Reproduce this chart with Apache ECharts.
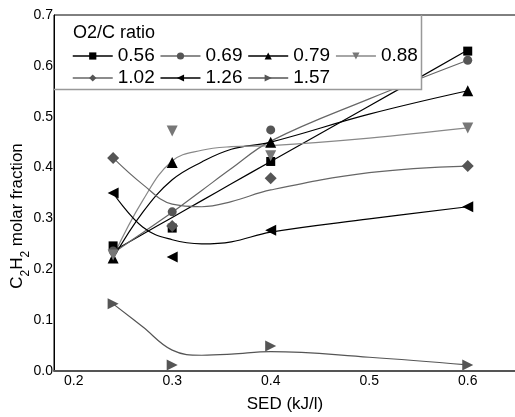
<!DOCTYPE html>
<html>
<head>
<meta charset="utf-8">
<script src="https://cdn.jsdelivr.net/npm/echarts@6/dist/echarts.min.js"></script>
<style>
  html, body { margin: 0; padding: 0; background: #fff; }
  #chart { width: 515px; height: 417px; }
</style>
</head>
<body>
<div id="chart"></div>
<script>
// Measured points: SED (kJ/l) and C2H2 molar fraction for each O2/C ratio
const sed = [0.24, 0.3, 0.4, 0.6];
const ratios = ['0.56', '0.69', '0.79', '0.88', '1.02', '1.26', '1.57'];
const r056 = [0.246, 0.281, 0.412, 0.629];
const r069 = [0.236, 0.313, 0.474, 0.611];
const r079 = [0.222, 0.410, 0.450, 0.551];
const r088 = [0.228, 0.472, 0.423, 0.478];
const r102 = [0.419, 0.285, 0.379, 0.403];
const r126 = [0.350, 0.224, 0.277, 0.323];
const r157 = [0.132, 0.012, 0.049, 0.012];

// Fitted trend curves for each ratio
const fitSed = [0.24, 0.27, 0.3, 0.33, 0.36, 0.4, 0.5, 0.6];
const fit056 = [0.236, 0.269, 0.302, 0.335, 0.368, 0.412, 0.521, 0.631];
const fit069 = [0.232, 0.272, 0.312, 0.355, 0.398, 0.452, 0.535, 0.611];
const fit079 = [0.222, 0.312, 0.376, 0.411, 0.436, 0.450, 0.505, 0.551];
const fit088 = [0.225, 0.335, 0.413, 0.434, 0.441, 0.443, 0.458, 0.478];
const fit102 = [0.419, 0.367, 0.328, 0.323, 0.333, 0.356, 0.390, 0.403];
const fit126 = [0.350, 0.283, 0.258, 0.250, 0.254, 0.273, 0.299, 0.323];
const fit157 = [0.132, 0.087, 0.041, 0.031, 0.033, 0.038, 0.027, 0.012];

const points = [r056, r069, r079, r088, r102, r126, r157];
const fits = [fit056, fit069, fit079, fit088, fit102, fit126, fit157];

const looks = [
  { symbol: 'rect',     size: 9,  rotate: 0,   mark: '#000', line: '#000' },
  { symbol: 'circle',   size: 9,  rotate: 0,   mark: '#555', line: '#666' },
  { symbol: 'triangle', size: 11, rotate: 0,   mark: '#000', line: '#000' },
  { symbol: 'triangle', size: 11, rotate: 180, mark: '#777', line: '#888' },
  { symbol: 'diamond',  size: 12, rotate: 0,   mark: '#555', line: '#666' },
  { symbol: 'triangle', size: 11, rotate: 90,  mark: '#000', line: '#000' },
  { symbol: 'triangle', size: 11, rotate: -90, mark: '#555', line: '#555' }
];

const FONT = "'Liberation Sans', Arial, sans-serif";

const series = [];
ratios.forEach((name, i) => {
  series.push({
    name: name + ' fit',
    type: 'line',
    smooth: 0.4,
    showSymbol: false,
    silent: true,
    z: 2,
    data: fitSed.map((x, k) => [x, fits[i][k]]),
    lineStyle: { color: looks[i].line, width: 1.2 },
    itemStyle: { color: looks[i].line }
  });
});
ratios.forEach((name, i) => {
  series.push({
    name: name,
    type: 'line',
    z: 3,
    symbol: looks[i].symbol,
    symbolSize: looks[i].size,
    symbolRotate: looks[i].rotate,
    data: sed.map((x, k) => [x, points[i][k]]),
    itemStyle: { color: looks[i].mark },
    lineStyle: { color: looks[i].line, opacity: 0 }
  });
});

const legendCommon = {
  orient: 'horizontal',
  left: 72,
  padding: 0,
  itemWidth: 40,
  itemHeight: 9,
  itemGap: 5,
  z: 10,
  selectedMode: false,
  lineStyle: { opacity: 1, width: 1.5 },
  textStyle: { fontFamily: FONT, fontSize: 19, color: '#000', lineHeight: 20 }
};

const chart = echarts.init(document.getElementById('chart'), null, { renderer: 'canvas' });
chart.setOption({
  animation: false,
  backgroundColor: '#fff',
  grid: {
    left: 54, right: -1, top: 15, bottom: 46,
    outerBoundsMode: 'none',
    containLabel: false,
    show: true, borderColor: '#000', borderWidth: 1, backgroundColor: 'transparent'
  },
  xAxis: {
    type: 'value',
    min: 0.18,
    max: 0.649,
    splitNumber: 5,
    name: 'SED (kJ/l)',
    nameLocation: 'middle',
    nameGap: 25,
    nameMoveOverlap: false,
    nameTextStyle: { fontFamily: FONT, fontSize: 17, color: '#000' },
    axisLine: { lineStyle: { color: '#555', width: 2 } },
    axisTick: { show: false },
    splitLine: { show: false },
    axisLabel: {
      showMinLabel: false, showMaxLabel: false,
      margin: 3,
      fontFamily: FONT, fontSize: 14, color: '#000',
      formatter: v => v.toFixed(1)
    }
  },
  yAxis: {
    type: 'value',
    min: 0,
    max: 0.7,
    interval: 0.1,
    name: '{m|C}{s|2}{m|H}{s|2}{m| molar fraction}',
    nameLocation: 'middle',
    nameGap: 28,
    nameMoveOverlap: false,
    nameTextStyle: {
      fontFamily: FONT, color: '#000',
      padding: [0, 46, 0, 0],
      rich: {
        m: { fontFamily: FONT, fontSize: 17, color: '#000' },
        s: { fontFamily: FONT, fontSize: 12, color: '#000', verticalAlign: 'bottom', padding: [0, 0, -6, 0] }
      }
    },
    axisLine: { show: true, lineStyle: { color: '#000', width: 1 } },
    axisTick: { show: false },
    splitLine: { show: false },
    axisLabel: {
      margin: 1,
      fontFamily: FONT, fontSize: 14, color: '#000',
      formatter: v => v.toFixed(1)
    }
  },
  legend: [
    Object.assign({}, legendCommon, { top: 46, data: ratios.slice(0, 4) }),
    Object.assign({}, legendCommon, { top: 68, data: ratios.slice(4) })
  ],
  graphic: [
    { type: 'rect', z: 5, silent: true,
      shape: { x: 55, y: 16, width: 366, height: 73 },
      style: { fill: '#fff' } },
    { type: 'polyline', z: 6, silent: true,
      shape: { points: [[54, 89.5], [421.5, 89.5], [421.5, 15]] },
      style: { stroke: '#999', lineWidth: 1.5, fill: null } },
    { type: 'text', z: 11, silent: true,
      style: { x: 73, y: 33, text: 'O2/C ratio', fontFamily: FONT, fontSize: 18,
               fill: '#000', verticalAlign: 'middle', align: 'left' } }
  ],
  series: series
});
</script>
</body>
</html>
